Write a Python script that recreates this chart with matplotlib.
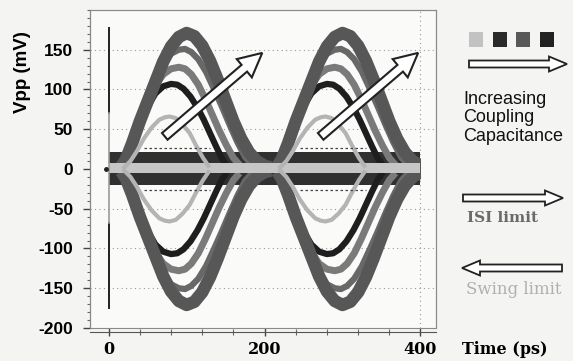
import matplotlib.pyplot as plt
from matplotlib.patches import FancyArrow, Rectangle
from matplotlib.ticker import MultipleLocator

# one pulse of each trace family (t in ps, V in mV)
t_e = [16, 22, 30, 40, 50, 60, 70, 80, 90, 100, 110, 120, 130, 140, 150, 160, 170, 180, 190, 200, 208]
v_e = [3, 12, 32, 60, 85, 110, 135, 154, 166, 171, 167, 155, 136, 112, 86, 60, 38, 21, 10, 4, 2]

t_d = [16, 22, 30, 40, 50, 60, 70, 80, 90, 98, 106, 115, 125, 135, 145, 155, 165, 175, 184]
v_d = [3, 12, 32, 60, 87, 111, 132, 145, 150, 151, 147, 138, 122, 101, 79, 56, 34, 15, 5]

t_c = [16, 22, 30, 40, 50, 60, 70, 80, 90, 98, 106, 115, 124, 133, 142, 151, 160, 168]
v_c = [3, 12, 30, 57, 84, 105, 119, 126, 128, 126, 119, 106, 88, 68, 48, 30, 14, 5]

t_b = [16, 22, 30, 40, 50, 60, 70, 80, 88, 96, 105, 114, 122, 130, 138, 146, 152]
v_b = [3, 12, 30, 55, 78, 95, 104, 107, 106, 101, 91, 77, 62, 45, 28, 12, 4]

t_a = [20, 28, 36, 45, 55, 65, 72, 78, 86, 95, 104, 113, 121, 128]
v_a = [2, 10, 22, 38, 52, 62, 65, 66, 64, 56, 45, 28, 14, 4]

period = 200
band_t = [0, 400]
band_dark = (7, 21)
band_dark_low = (-20, -5)
band_light = (-5, 7)

isi_t = [45, 130]
isi_v = 27

trace0_dark = [(70, 177), (-175, -68)]
trace0_gray = (-68, 70)

arrow_tail = (72, 41)
arrow_tip = (197, 146)

yticks = [-200, -150, -100, -50, 0, 50, 100, 150]
xticks = [0, 200, 400]
grid_y = [150, 100, 50, -50, -100, -150]

fig = plt.figure(figsize=(5.73, 3.61), dpi=100)
fig.patch.set_facecolor('#f4f4f2')
ax = fig.add_axes([0.157, 0.0914, 0.604, 0.881])
ax.set_facecolor('#fafaf9')
ax.spines['bottom'].set_position(('outward', 3))

for g in grid_y:
    ax.axhline(g, color='#999999', lw=0.8, ls=(0, (1, 3)), zorder=1)
ax.axvline(400, color='#999999', lw=0.8, ls=(0, (1, 3)), zorder=1)

clip = Rectangle((0, -200), 401, 400, transform=ax.transData)

# zero level bands
ax.fill_between(band_t, band_dark[0], band_dark[1], color='#303030', lw=0, zorder=2)
ax.fill_between(band_t, band_dark_low[0], band_dark_low[1], color='#303030', lw=0, zorder=2)

families = [
    (t_c, v_c, '#7a7a7a', 5),
    (t_d, v_d, '#686868', 4.5),
    (t_b, v_b, '#1e1e1e', 4.5),
    (t_e, v_e, '#575757', 9),
]
for k in range(2):
    for sign in (1, -1):
        for t, v, c, lw in families:
            ln, = ax.plot([x + k * period for x in t], [sign * y for y in v],
                          color=c, lw=lw, solid_capstyle='butt', zorder=3)
            ln.set_clip_path(clip)

ax.fill_between(band_t, band_light[0], band_light[1], color='#c6c6c6', lw=0, zorder=4)

for k in range(2):
    for sign in (1, -1):
        ln, = ax.plot([x + k * period for x in t_a], [sign * y for y in v_a],
                      color='#b4b4b4', lw=3, zorder=5)
        ln.set_clip_path(clip)
        ax.plot([x + k * period for x in isi_t], [sign * isi_v] * 2,
                color='#444444', lw=0.9, ls=(0, (2, 2)), zorder=5)

# trace at t = 0
for lo, hi in trace0_dark:
    ax.plot([0, 0], [lo, hi], color='#222222', lw=1.4, zorder=5)
ax.plot([0, 0], list(trace0_gray), color='#9a9a9a', lw=1.2, zorder=5)
ax.plot([-4], [0], marker='o', ms=2.5, color='#222222', zorder=5)

# increasing-coupling arrows
for k in range(2):
    x0, y0 = arrow_tail[0] + k * period, arrow_tail[1]
    ax.add_patch(FancyArrow(x0, y0, arrow_tip[0] - arrow_tail[0], arrow_tip[1] - arrow_tail[1],
                            width=11, head_width=30, head_length=30,
                            length_includes_head=True, fc='white', ec='#222222',
                            lw=1.5, zorder=6))

ax.set_xlim(-24, 420)
ax.set_ylim(-200, 200)
ax.set_xticks(xticks)
ax.set_yticks(yticks)
ax.xaxis.set_minor_locator(MultipleLocator(40))
ax.yaxis.set_minor_locator(MultipleLocator(10))
ax.tick_params(axis='y', which='major', length=5, width=1, color='#444444', pad=7)
ax.tick_params(axis='y', which='minor', length=2.5, width=0.8, color='#666666')
ax.tick_params(axis='x', which='major', length=6, width=1, direction='inout', color='#444444', pad=3.5)
ax.tick_params(axis='x', which='minor', length=4, width=0.8, direction='inout', color='#666666')
ax.set_yticklabels([str(v) for v in yticks], family='Liberation Sans',
                   fontweight='bold', fontsize=12.5)
ax.set_xticklabels([str(v) for v in xticks], family='DejaVu Serif',
                   fontweight='bold', fontsize=11.5)

ax.spines['bottom'].set_color('#555555')
ax.spines['left'].set_color('#555555')
ax.spines['top'].set_color('#8a8a8a')
ax.spines['right'].set_color('#8a8a8a')
ax.add_patch(Rectangle((0, 0), 1, 1, transform=ax.transAxes, fill=False,
                       ec='#8a8a8a', lw=0.8, zorder=7, clip_on=False))

fig.text(0.040, 0.80, 'Vpp (mV)', rotation=90, ha='center', va='center',
         fontsize=13.5, fontweight='bold', family='Liberation Sans')
fig.text(462 / 573, 1 - 350 / 361, 'Time (ps)', ha='left', va='center',
         fontsize=11.5, fontweight='bold', family='DejaVu Serif')

# annotation panel in pixel coordinates
ov = fig.add_axes([0, 0, 1, 1], facecolor='none')
ov.set_xlim(0, 573)
ov.set_ylim(361, 0)
ov.axis('off')

square_x = [469, 493, 516, 540]
square_c = ['#c2c2c2', '#2a2a2a', '#585858', '#222222']
for x, c in zip(square_x, square_c):
    ov.add_patch(Rectangle((x, 32), 14, 15, color=c, lw=0))


def hollow_arrow(x0, x1, y):
    ov.add_patch(FancyArrow(x0, y, x1 - x0, 0, width=7, head_width=15, head_length=18,
                            length_includes_head=True, fc='white', ec='#222222', lw=1.3))


hollow_arrow(469, 567, 64)
hollow_arrow(463, 563, 198)
hollow_arrow(562, 462, 268)

ov.text(463, 118, 'Increasing\nCoupling\nCapacitance', ha='left', va='center',
        fontsize=13, family='Liberation Sans', linespacing=1.12, color='#111111')
ov.text(467, 218, 'ISI limit', ha='left', va='center', fontsize=11,
        family='DejaVu Serif', fontweight='bold', color='#6a6a6a')
ov.text(466, 289, 'Swing limit', ha='left', va='center', fontsize=12,
        family='DejaVu Serif', color='#b0b0b0')

fig.savefig('out.png', dpi=100, facecolor=fig.get_facecolor())
